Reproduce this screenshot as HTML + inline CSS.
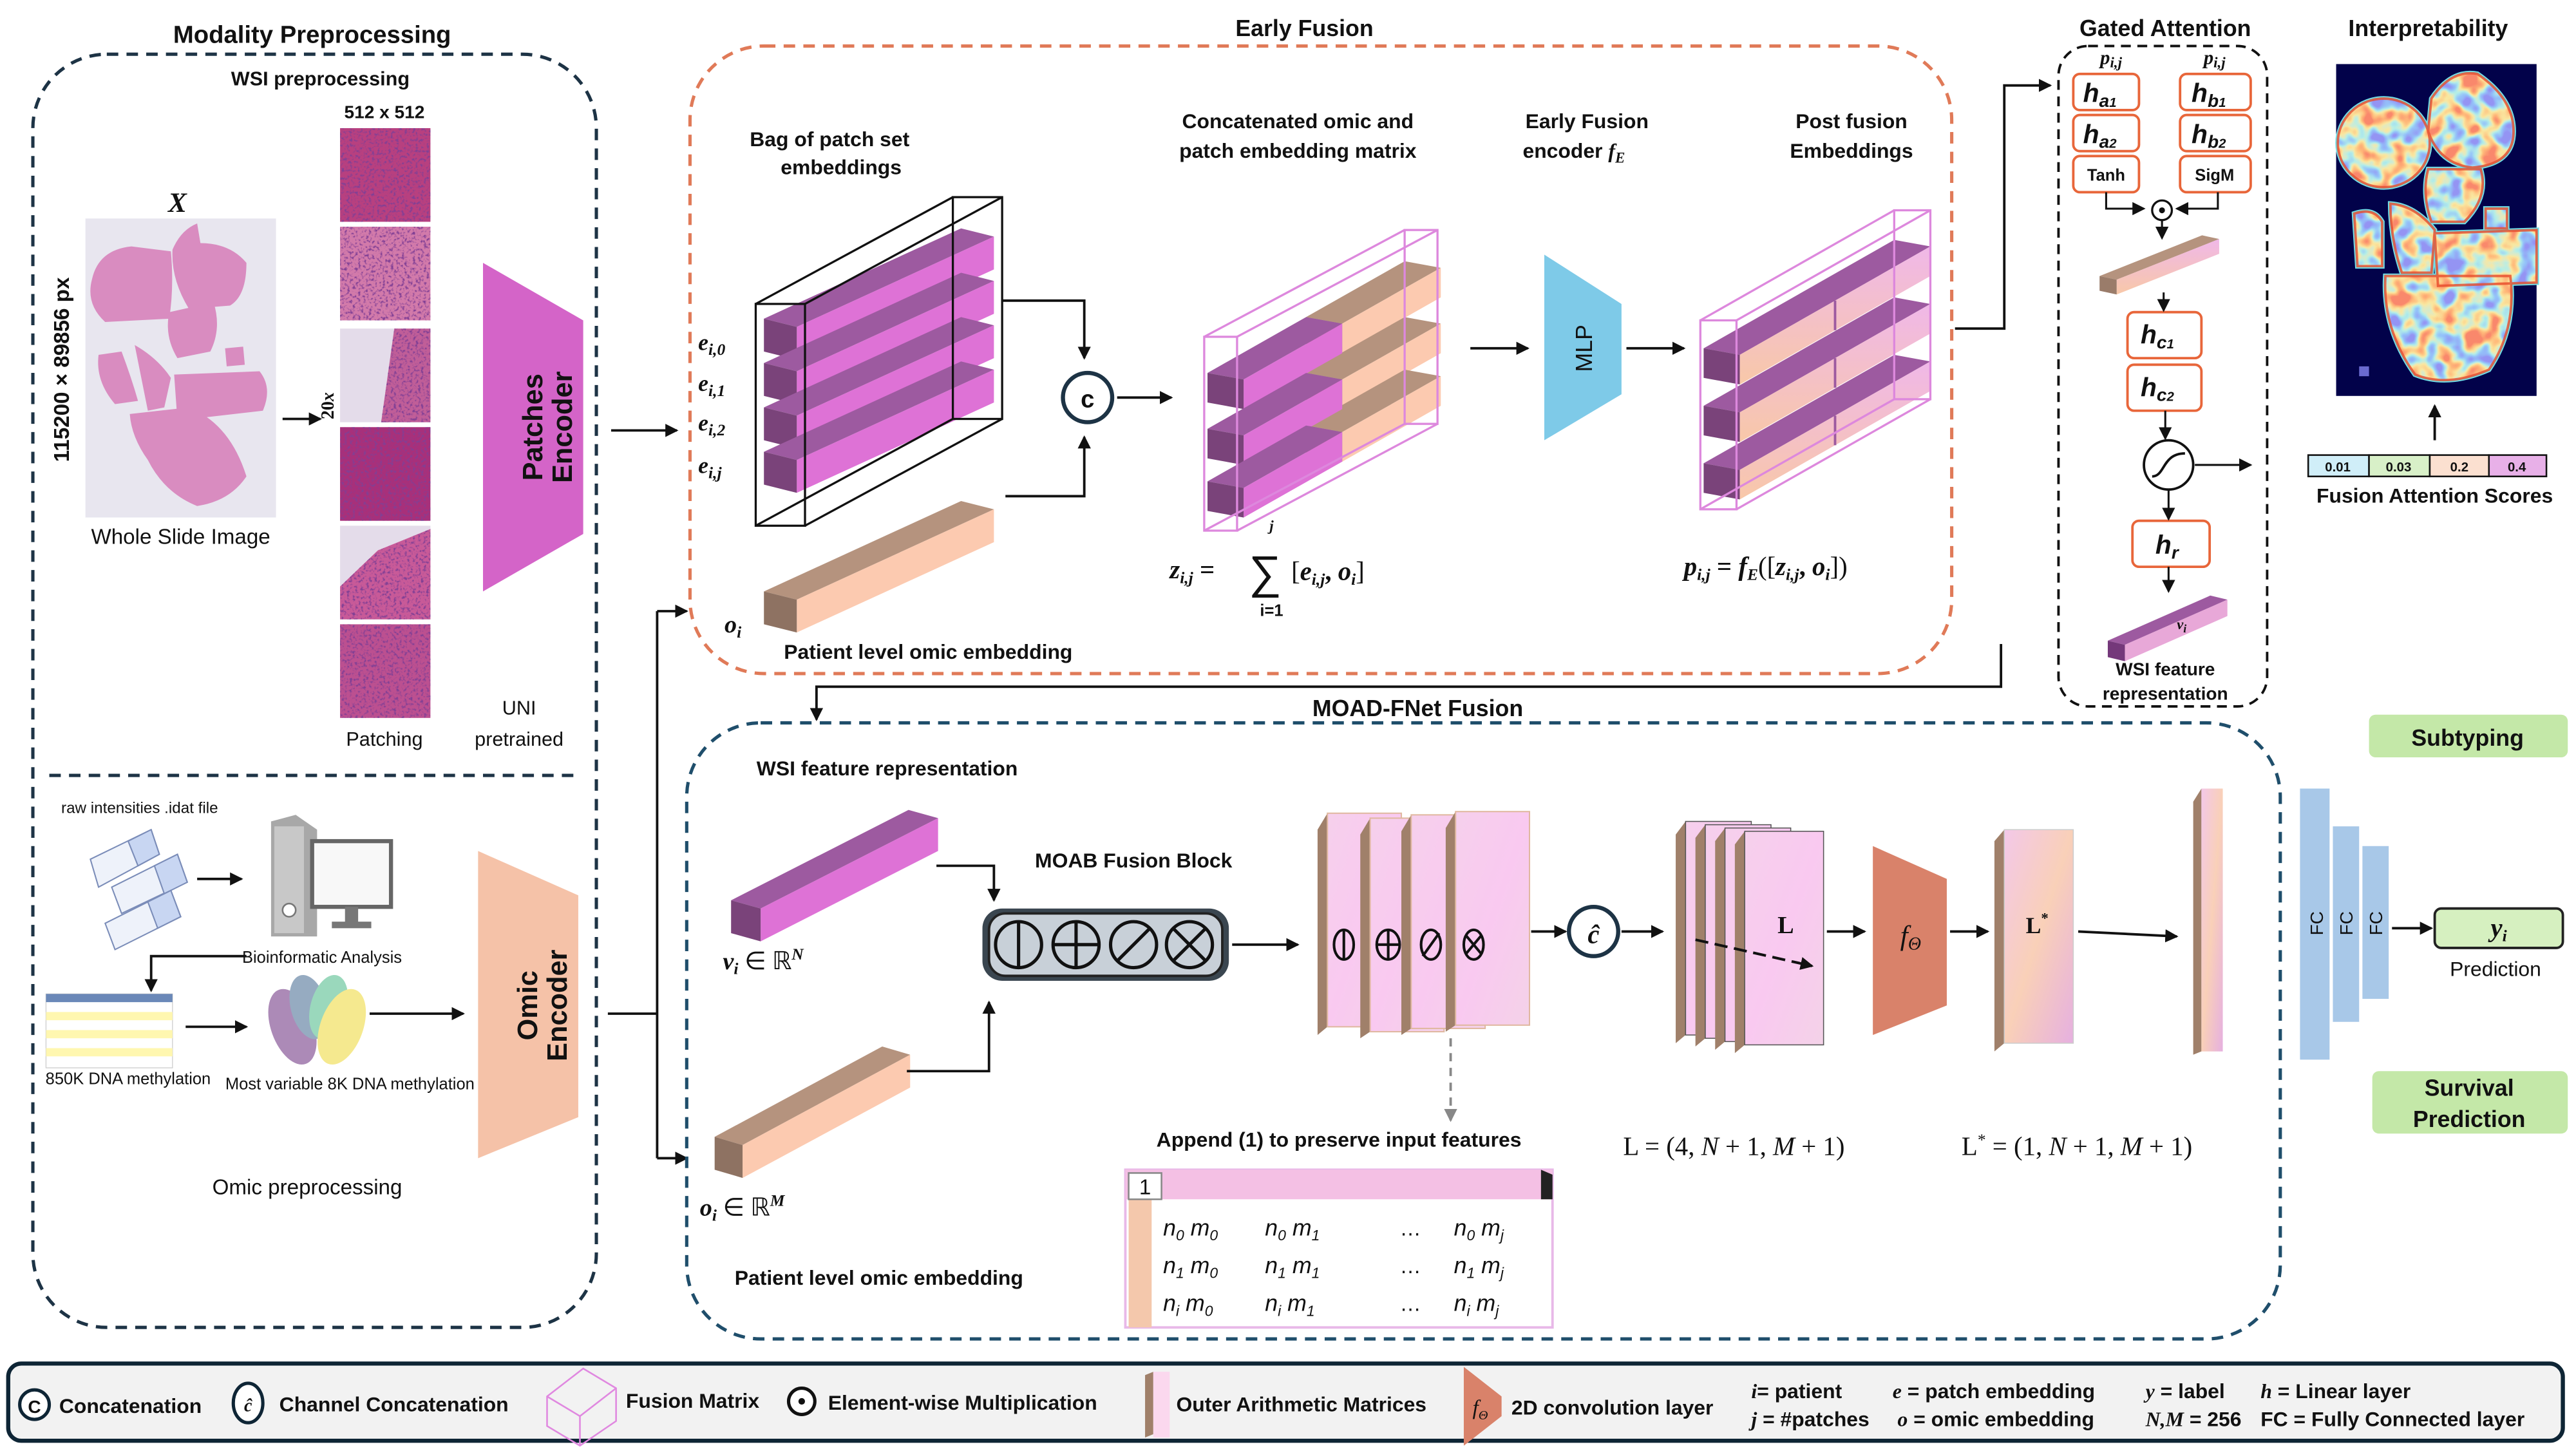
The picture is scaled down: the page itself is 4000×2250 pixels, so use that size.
<!DOCTYPE html>
<html><head><meta charset="utf-8"><style>
html,body{margin:0;padding:0;background:#fff;}
svg{display:block;}
text{font-family:"Liberation Sans",sans-serif;font-weight:bold;fill:#111;}
.it{font-family:"Liberation Serif",serif;font-style:italic;font-weight:bold;}
</style></head><body>
<svg width="4000" height="2250" viewBox="0 0 1568 882" xmlns="http://www.w3.org/2000/svg">
<defs>
<marker id="ah" markerWidth="8" markerHeight="8" refX="7" refY="4" orient="auto" markerUnits="userSpaceOnUse"><path d="M0,0 L8,4 L0,8 z" fill="#111"/></marker>
<marker id="ahg" markerWidth="8" markerHeight="8" refX="7" refY="4" orient="auto" markerUnits="userSpaceOnUse"><path d="M0,0 L8,4 L0,8 z" fill="#888"/></marker>
<g id="pb"><polygon points="0,0 120,-55 140,-50 20,5" fill="#9d5aa0"/><polygon points="20,5 140,-50 140,-30 20,25" fill="#de72d6"/><polygon points="0,0 20,5 20,25 0,20" fill="#7a437a"/></g>
<g id="ob"><polygon points="0,0 120,-55 140,-50 20,5" fill="#b5937e"/><polygon points="20,5 140,-50 140,-30 20,25" fill="#fccab0"/><polygon points="0,0 20,5 20,25 0,20" fill="#8e7262"/></g>
<g id="cbp"><polygon points="0,0 60,-34 82,-30 22,4" fill="#9d5aa0"/><polygon points="22,4 82,-30 82,-12 22,22" fill="#de72d6"/><polygon points="0,0 22,4 22,22 0,18" fill="#7a437a"/></g>
<g id="cbo"><polygon points="0,0 60,-34 82,-30 22,4" fill="#b5937e"/><polygon points="22,4 82,-30 82,-12 22,22" fill="#fccab0"/><polygon points="0,0 22,4 22,22 0,18" fill="#8e7262"/></g>
<linearGradient id="pf" x1="0" y1="0" x2="0" y2="1"><stop offset="0" stop-color="#f0b8e8"/><stop offset="1" stop-color="#f8c8a8"/></linearGradient>
<g id="fb"><polygon points="0,0 116,-66 138,-62 22,4" fill="#9d5aa0"/><polygon points="22,4 138,-62 138,-44 22,22" fill="url(#pf)"/><polygon points="0,0 22,4 22,22 0,18" fill="#7a437a"/><line x1="80" y1="-29" x2="80" y2="-11" stroke="#9d5aa0" stroke-width="1.5"/></g>
<linearGradient id="slab" x1="0" y1="0" x2="1" y2="1"><stop offset="0" stop-color="#f6d0ec"/><stop offset="0.5" stop-color="#f9c9f0"/><stop offset="1" stop-color="#f4d2e8"/></linearGradient>
<linearGradient id="lstar" x1="0" y1="0" x2="1" y2="1"><stop offset="0" stop-color="#f3c8e8"/><stop offset="0.5" stop-color="#f9d0b8"/><stop offset="1" stop-color="#e6b0e0"/></linearGradient>
<filter id="tex" x="0" y="0" width="100%" height="100%">
<feTurbulence type="fractalNoise" baseFrequency="0.6" numOctaves="2" seed="4"/>
<feColorMatrix type="matrix" values="0 0 0 0 0.22  0 0 0 0 0.05  0 0 0 0 0.3  4 0 0 0 -2"/>
<feComposite in2="SourceGraphic" operator="in"/>
</filter>
<filter id="jet" x="0" y="0" width="100%" height="100%">
<feTurbulence type="fractalNoise" baseFrequency="0.09" numOctaves="2" seed="7"/>
<feColorMatrix type="matrix" values="2.2 0 0 0 -0.6  2.2 0 0 0 -0.6  2.2 0 0 0 -0.6  0 0 0 0 1"/>
<feComponentTransfer>
<feFuncR type="table" tableValues="0.3 0.3 0.45 0.95 1 0.95"/>
<feFuncG type="table" tableValues="0.3 0.55 0.85 0.8 0.5 0.25"/>
<feFuncB type="table" tableValues="0.9 0.95 0.8 0.35 0.2 0.15"/>
</feComponentTransfer>
<feComposite in2="SourceGraphic" operator="in"/>
</filter>
<g id="tissue">
<ellipse cx="1451" cy="87" rx="28" ry="27"/>
<path d="M1480,60 Q1492,42 1508,45 Q1530,60 1530,80 Q1530,100 1505,102 Q1485,100 1478,80z"/>
<path d="M1478,103 L1510,103 Q1515,120 1500,135 L1480,135 Q1474,118 1478,103z"/>
<path d="M1433,130 Q1445,126 1450,135 L1450,162 L1435,162 z"/>
<path d="M1455,124 Q1470,125 1482,140 L1480,166 L1462,166 Q1455,145 1455,124z"/>
<path d="M1482,142 L1544,140 L1544,172 L1484,174 z"/>
<path d="M1452,168 L1528,168 Q1532,200 1515,225 Q1490,236 1470,228 Q1450,200 1452,168z"/>
<rect x="1513" y="127" width="13" height="12"/>
</g>
</defs>
<rect width="1568" height="882" fill="#fff"/>

<!-- ============ Modality preprocessing ============ -->
<text x="190" y="26" font-size="15" text-anchor="middle">Modality Preprocessing</text>
<rect x="20" y="33" width="343" height="775" rx="45" fill="none" stroke="#1d3345" stroke-width="2" stroke-dasharray="7,5"/>
<line x1="30" y1="472" x2="352" y2="472" stroke="#1d3345" stroke-width="2" stroke-dasharray="7,5"/>
<text x="195" y="52" font-size="12" text-anchor="middle">WSI preprocessing</text>
<text x="108" y="129" font-size="17" class="it" text-anchor="middle">X</text>
<rect x="52" y="133" width="116" height="182" fill="#e8e6ef"/>
<g fill="#d98cc0">
<path d="M56,170 Q60,152 80,150 L104,153 Q106,175 103,194 L64,196 Q52,185 56,170z"/>
<path d="M105,152 Q110,140 120,136 L122,148 Q140,148 150,160 Q150,180 140,186 L115,188 Q104,170 105,152z"/>
<path d="M103,190 L130,184 Q135,200 128,214 L108,218 Q100,205 103,190z"/>
<path d="M60,216 L74,214 Q80,230 84,244 L70,246 Q58,232 60,216z"/>
<path d="M82,210 Q96,218 104,230 L100,248 L90,250 Q86,230 82,210z"/>
<path d="M106,228 L158,226 Q166,236 160,250 L108,256 z"/>
<path d="M79,252 L115,248 Q140,258 150,290 Q140,305 120,308 Q100,300 90,280 Q80,266 79,252z"/>
<path d="M137,212 L148,211 L149,222 L138,223 z"/>
</g>
<text x="110" y="331" font-size="13" text-anchor="middle" style="font-weight:normal">Whole Slide Image</text>
<text transform="translate(42,225) rotate(-90)" font-size="13" text-anchor="middle">115200 × 89856 px</text>
<text x="234" y="72" font-size="11" text-anchor="middle">512 x 512</text>
<rect x="207" y="78" width="55" height="57" fill="#b8407f"/>
<rect x="207" y="138" width="55" height="57" fill="#d27aaa"/>
<rect x="207" y="200" width="55" height="57" fill="#e4dcea"/>
<polygon points="240,200 262,200 262,257 232,257" fill="#c05e98"/>
<rect x="207" y="260" width="55" height="57" fill="#a8307a"/>
<rect x="207" y="320" width="55" height="57" fill="#e4dcea"/>
<polygon points="207,357 230,335 262,322 262,377 207,377" fill="#c85a98"/>
<rect x="207" y="380" width="55" height="57" fill="#bc5090"/>
<g filter="url(#tex)">
<rect x="207" y="78" width="55" height="57"/><rect x="207" y="138" width="55" height="57"/>
<polygon points="240,200 262,200 262,257 232,257"/>
<rect x="207" y="260" width="55" height="57"/>
<polygon points="207,357 230,335 262,322 262,377 207,377"/>
<rect x="207" y="380" width="55" height="57"/>
</g>
<text x="234" y="454" font-size="12" text-anchor="middle" style="font-weight:normal">Patching</text>
<line x1="172" y1="255" x2="195" y2="255" stroke="#111" stroke-width="1.5" marker-end="url(#ah)"/>
<text transform="translate(203,247) rotate(-90)" font-size="11" text-anchor="middle" style="font-family:'Liberation Serif',serif">20<tspan font-style="italic">x</tspan></text>
<polygon points="294,160 355,195 355,325 294,360" fill="#d464c8"/>
<text transform="translate(330,260) rotate(-90)" font-size="17" text-anchor="middle">Patches</text>
<text transform="translate(348,260) rotate(-90)" font-size="17" text-anchor="middle">Encoder</text>
<text x="316" y="435" font-size="12" text-anchor="middle" style="font-weight:normal">UNI</text>
<text x="316" y="454" font-size="12" text-anchor="middle" style="font-weight:normal">pretrained</text>
<line x1="372" y1="262" x2="412" y2="262" stroke="#111" stroke-width="1.5" marker-end="url(#ah)"/>

<!-- omic preprocessing -->
<text x="85" y="495" font-size="9.5" text-anchor="middle" style="font-weight:normal">raw intensities .idat file</text>
<g stroke="#7a8cb8" stroke-width="0.8">
<polygon points="55,523 92,505 97,520 60,540" fill="#eef2fa"/><polygon points="78,512 92,505 97,520 84,527" fill="#c8d6f2"/>
<polygon points="68,540 108,520 114,537 74,556" fill="#eef2fa"/><polygon points="94,527 108,520 114,537 100,544" fill="#c8d6f2"/>
<polygon points="64,562 104,542 110,558 70,578" fill="#eef2fa"/><polygon points="90,549 104,542 110,558 96,565" fill="#c8d6f2"/>
</g>
<line x1="120" y1="535" x2="147" y2="535" stroke="#111" stroke-width="1.5" marker-end="url(#ah)"/>
<polygon points="165,500 180,496 193,505 193,570 165,570" fill="#a8a8a8"/>
<rect x="167" y="503" width="18" height="65" fill="#c8c8c8"/>
<circle cx="176" cy="554" r="4" fill="#fff" stroke="#777"/>
<rect x="190" y="512" width="48" height="40" fill="#f8f8f8" stroke="#666" stroke-width="2.5"/>
<rect x="210" y="552" width="8" height="10" fill="#777"/><rect x="202" y="561" width="24" height="4" fill="#777"/>
<text x="196" y="586" font-size="10" text-anchor="middle" style="font-weight:normal">Bioinformatic Analysis</text>
<polyline points="150,582 92,582 92,603" fill="none" stroke="#111" stroke-width="1.5" marker-end="url(#ah)"/>
<rect x="28" y="605" width="77" height="45" fill="#fff" stroke="#ccc" stroke-width="0.5"/>
<rect x="28" y="605" width="77" height="5" fill="#6a88b8"/>
<g fill="#fff7b0"><rect x="28" y="616" width="77" height="5"/><rect x="28" y="627" width="77" height="5"/><rect x="28" y="638" width="77" height="5"/></g>
<text x="78" y="660" font-size="10" text-anchor="middle" style="font-weight:normal">850K DNA methylation</text>
<line x1="113" y1="625" x2="150" y2="625" stroke="#111" stroke-width="1.5" marker-end="url(#ah)"/>
<g opacity="0.7">
<ellipse cx="178" cy="625" rx="13" ry="24" transform="rotate(-20 178 625)" fill="#8a5a9a"/>
<ellipse cx="188" cy="613" rx="11" ry="20" transform="rotate(-15 188 613)" fill="#6a88a8"/>
<ellipse cx="200" cy="613" rx="11" ry="20" transform="rotate(15 200 613)" fill="#70c8a0"/>
<ellipse cx="208" cy="625" rx="13" ry="24" transform="rotate(20 208 625)" fill="#f2e060"/>
</g>
<text x="213" y="663" font-size="10" text-anchor="middle" style="font-weight:normal">Most variable 8K DNA methylation</text>
<line x1="225" y1="617" x2="282" y2="617" stroke="#111" stroke-width="1.5" marker-end="url(#ah)"/>
<polygon points="291,518 352,545 352,680 291,705" fill="#f5c2a8"/>
<text transform="translate(327,612) rotate(-90)" font-size="17" text-anchor="middle">Omic</text>
<text transform="translate(345,612) rotate(-90)" font-size="17" text-anchor="middle">Encoder</text>
<text x="187" y="727" font-size="13" text-anchor="middle" style="font-weight:normal">Omic preprocessing</text>
<line x1="370" y1="617" x2="400" y2="617" stroke="#111" stroke-width="1.5"/>
<line x1="400" y1="372" x2="400" y2="705" stroke="#111" stroke-width="1.5"/>
<line x1="400" y1="372" x2="418" y2="372" stroke="#111" stroke-width="1.5" marker-end="url(#ah)"/>
<line x1="400" y1="705" x2="418" y2="705" stroke="#111" stroke-width="1.5" marker-end="url(#ah)"/>

<!-- ============ Early fusion ============ -->
<text x="794" y="22" font-size="14" text-anchor="middle">Early Fusion</text>
<rect x="420" y="28" width="768" height="382" rx="45" fill="none" stroke="#e07a58" stroke-width="2" stroke-dasharray="7,5"/>
<text x="505" y="89" font-size="12.5" text-anchor="middle">Bag of patch set</text>
<text x="512" y="106" font-size="12.5" text-anchor="middle">embeddings</text>
<use href="#pb" x="465" y="194"/>
<use href="#pb" x="465" y="221"/>
<use href="#pb" x="465" y="248"/>
<use href="#pb" x="465" y="275"/>
<g fill="none" stroke="#111" stroke-width="1.3">
<rect x="460" y="185" width="30" height="135"/>
<rect x="580" y="120" width="30" height="135"/>
<line x1="460" y1="185" x2="580" y2="120"/><line x1="490" y1="185" x2="610" y2="120"/>
<line x1="460" y1="320" x2="580" y2="255"/><line x1="490" y1="320" x2="610" y2="255"/>
</g>
<g font-size="14" class="it">
<text x="425" y="213" class="it">e<tspan font-size="10" dy="3">i,0</tspan></text>
<text x="425" y="238" class="it">e<tspan font-size="10" dy="3">i,1</tspan></text>
<text x="425" y="262" class="it">e<tspan font-size="10" dy="3">i,2</tspan></text>
<text x="425" y="288" class="it">e<tspan font-size="10" dy="3">i,j</tspan></text>
</g>
<use href="#ob" transform="translate(465,360)"/>
<text x="441" y="385" font-size="15" class="it">o<tspan font-size="10" dy="3">i</tspan></text>
<text x="565" y="401" font-size="12.5" text-anchor="middle">Patient level omic embedding</text>
<polyline points="610,183 660,183 660,218" fill="none" stroke="#111" stroke-width="1.5" marker-end="url(#ah)"/>
<polyline points="612,302 660,302 660,266" fill="none" stroke="#111" stroke-width="1.5" marker-end="url(#ah)"/>
<circle cx="662" cy="242" r="15" fill="#fff" stroke="#1d3345" stroke-width="2.5"/>
<text x="662" y="248" font-size="15" text-anchor="middle">c</text>
<line x1="680" y1="242" x2="713" y2="242" stroke="#111" stroke-width="1.5" marker-end="url(#ah)"/>
<text x="790" y="78" font-size="12.5" text-anchor="middle">Concatenated omic and</text>
<text x="790" y="96" font-size="12.5" text-anchor="middle">patch embedding matrix</text>
<use href="#cbo" x="795" y="193"/>
<use href="#cbo" x="795" y="227"/>
<use href="#cbo" x="795" y="259"/>
<use href="#cbp" x="735" y="227"/>
<use href="#cbp" x="735" y="261"/>
<use href="#cbp" x="735" y="293"/>
<g fill="none" stroke="#dd88dd" stroke-width="1.3">
<rect x="733" y="205" width="20" height="118"/>
<rect x="855" y="140" width="20" height="118"/>
<line x1="733" y1="205" x2="855" y2="140"/><line x1="753" y1="205" x2="875" y2="140"/>
<line x1="733" y1="323" x2="855" y2="258"/><line x1="753" y1="323" x2="875" y2="258"/>
</g>
<text x="712" y="352" font-size="16" class="it">z<tspan font-size="10" dy="3">i,j</tspan><tspan dy="-3" style="font-style:normal"> = </tspan></text>
<text x="770" y="358" font-size="28" style="font-weight:normal" text-anchor="middle">∑</text>
<text x="774" y="323" font-size="9" class="it" text-anchor="middle">j</text>
<text x="774" y="375" font-size="10" text-anchor="middle">i=1</text>
<text x="786" y="353" font-size="16" class="it"><tspan style="font-style:normal;font-weight:normal">[</tspan>e<tspan font-size="10" dy="3">i,j</tspan><tspan dy="-3" style="font-style:normal">, </tspan>o<tspan font-size="10" dy="3">i</tspan><tspan dy="-3" style="font-style:normal;font-weight:normal">]</tspan></text>
<line x1="895" y1="212" x2="930" y2="212" stroke="#111" stroke-width="1.5" marker-end="url(#ah)"/>
<text x="966" y="78" font-size="12.5" text-anchor="middle">Early Fusion</text>
<text x="958" y="96" font-size="12.5" text-anchor="middle">encoder <tspan class="it">f<tspan font-size="9" dy="3">E</tspan></tspan></text>
<polygon points="940,155 987,185 987,240 940,268" fill="#7ecae8"/>
<text transform="translate(969,212) rotate(-90)" font-size="14" text-anchor="middle" style="font-weight:normal">MLP</text>
<line x1="990" y1="212" x2="1025" y2="212" stroke="#111" stroke-width="1.5" marker-end="url(#ah)"/>
<text x="1127" y="78" font-size="12.5" text-anchor="middle">Post fusion</text>
<text x="1127" y="96" font-size="12.5" text-anchor="middle">Embeddings</text>
<use href="#fb" x="1037" y="212"/>
<use href="#fb" x="1037" y="247"/>
<use href="#fb" x="1037" y="282"/>
<g fill="none" stroke="#dd88dd" stroke-width="1.3">
<rect x="1035" y="195" width="22" height="115"/>
<rect x="1153" y="128" width="22" height="115"/>
<line x1="1035" y1="195" x2="1153" y2="128"/><line x1="1057" y1="195" x2="1175" y2="128"/>
<line x1="1035" y1="310" x2="1153" y2="243"/><line x1="1057" y1="310" x2="1175" y2="243"/>
</g>
<text x="1025" y="350" font-size="16" class="it">p<tspan font-size="10" dy="3">i,j</tspan><tspan dy="-3" style="font-style:normal"> = </tspan>f<tspan font-size="10" dy="3">E</tspan><tspan dy="-3" style="font-style:normal;font-weight:normal">([</tspan>z<tspan font-size="10" dy="3">i,j</tspan><tspan dy="-3" style="font-style:normal">, </tspan>o<tspan font-size="10" dy="3">i</tspan><tspan dy="-3" style="font-style:normal;font-weight:normal">])</tspan></text>
<polyline points="1190,200 1220,200 1220,52 1248,52" fill="none" stroke="#111" stroke-width="1.5" marker-end="url(#ah)"/>

<!-- ============ Gated attention ============ -->
<text x="1318" y="22" font-size="14" text-anchor="middle">Gated Attention</text>
<rect x="1253" y="28" width="127" height="402" rx="18" fill="none" stroke="#111" stroke-width="1.5" stroke-dasharray="6,4"/>
<text x="1285" y="39" font-size="12" class="it" text-anchor="middle">p<tspan font-size="9" dy="2">i,j</tspan></text>
<text x="1348" y="39" font-size="12" class="it" text-anchor="middle">p<tspan font-size="9" dy="2">i,j</tspan></text>
<g fill="#fff" stroke="#e8663a" stroke-width="1.5">
<rect x="1262" y="45" width="40" height="22" rx="4"/><rect x="1262" y="70" width="40" height="22" rx="4"/><rect x="1262" y="95" width="40" height="22" rx="4"/>
<rect x="1327" y="45" width="43" height="22" rx="4"/><rect x="1327" y="70" width="43" height="22" rx="4"/><rect x="1327" y="95" width="43" height="22" rx="4"/>
<rect x="1295" y="190" width="45" height="28" rx="4"/><rect x="1295" y="222" width="45" height="28" rx="4"/>
<rect x="1298" y="317" width="47" height="28" rx="4"/>
</g>
<g font-size="16" class="it">
<text x="1268" y="62">h<tspan font-size="11" dy="3">a<tspan font-size="8">1</tspan></tspan></text>
<text x="1268" y="87">h<tspan font-size="11" dy="3">a<tspan font-size="8">2</tspan></tspan></text>
<text x="1334" y="62">h<tspan font-size="11" dy="3">b<tspan font-size="8">1</tspan></tspan></text>
<text x="1334" y="87">h<tspan font-size="11" dy="3">b<tspan font-size="8">2</tspan></tspan></text>
<text x="1303" y="209">h<tspan font-size="11" dy="3">c<tspan font-size="8">1</tspan></tspan></text>
<text x="1303" y="241">h<tspan font-size="11" dy="3">c<tspan font-size="8">2</tspan></tspan></text>
<text x="1312" y="337">h<tspan font-size="11" dy="3">r</tspan></text>
</g>
<text x="1282" y="110" font-size="10" text-anchor="middle">Tanh</text>
<text x="1348" y="110" font-size="10" text-anchor="middle">SigM</text>
<polyline points="1282,117 1282,127 1305,127" fill="none" stroke="#111" stroke-width="1.2" marker-end="url(#ah)"/>
<polyline points="1350,117 1350,127 1325,127" fill="none" stroke="#111" stroke-width="1.2" marker-end="url(#ah)"/>
<circle cx="1316" cy="128" r="6" fill="#fff" stroke="#111" stroke-width="1.3"/><circle cx="1316" cy="128" r="1.8" fill="#111"/>
<line x1="1316" y1="134" x2="1316" y2="145" stroke="#111" stroke-width="1.2" marker-end="url(#ah)"/>
<g transform="translate(1278,168) scale(0.52,0.45)"><polygon points="0,0 120,-55 140,-50 20,5" fill="#b5937e"/><polygon points="20,5 140,-50 140,-30 20,25" fill="url(#pf)"/><polygon points="0,0 20,5 20,25 0,20" fill="#9a7c6a"/></g>
<line x1="1317" y1="178" x2="1317" y2="189" stroke="#111" stroke-width="1.2" marker-end="url(#ah)"/>
<line x1="1318" y1="250" x2="1318" y2="267" stroke="#111" stroke-width="1.2" marker-end="url(#ah)"/>
<circle cx="1320" cy="283" r="15" fill="#fff" stroke="#111" stroke-width="1.5"/>
<path d="M1310,290 C1318,290 1316,276 1330,276" fill="none" stroke="#111" stroke-width="1.5"/>
<line x1="1336" y1="283" x2="1370" y2="283" stroke="#111" stroke-width="1.2" marker-end="url(#ah)"/>
<line x1="1320" y1="298" x2="1320" y2="316" stroke="#111" stroke-width="1.2" marker-end="url(#ah)"/>
<line x1="1320" y1="345" x2="1320" y2="360" stroke="#111" stroke-width="1.2" marker-end="url(#ah)"/>
<g transform="translate(1283,390) scale(0.52,0.5)"><polygon points="0,0 120,-55 140,-50 20,5" fill="#9d5aa0"/><polygon points="20,5 140,-50 140,-30 20,25" fill="#e8a8d8"/><polygon points="0,0 20,5 20,25 0,20" fill="#74387a"/></g>
<text x="1325" y="383" font-size="9" class="it">v<tspan font-size="7" dy="2">i</tspan></text>
<text x="1318" y="411" font-size="11" text-anchor="middle">WSI feature</text>
<text x="1318" y="426" font-size="11" text-anchor="middle">representation</text>
<polyline points="1218,392 1218,418 497,418 497,438" fill="none" stroke="#111" stroke-width="1.5" marker-end="url(#ah)"/>

<!-- ============ Interpretability ============ -->
<text x="1478" y="22" font-size="14" text-anchor="middle">Interpretability</text>
<rect x="1422" y="39" width="122" height="202" fill="#02024a"/>
<use href="#tissue" fill="#50d8e8" stroke="#70e0e8" stroke-width="3"/>
<g filter="url(#jet)"><use href="#tissue" fill="#000"/></g>
<use href="#tissue" fill="none" stroke="#e84a2a" stroke-width="1.5" opacity="0.8"/>
<rect x="1436" y="223" width="6" height="6" fill="#6a6ad0"/>
<line x1="1482" y1="268" x2="1482" y2="247" stroke="#111" stroke-width="1.5" marker-end="url(#ah)"/>
<g stroke="#111" stroke-width="1">
<rect x="1405" y="277" width="37" height="13" fill="#d0eef8"/>
<rect x="1442" y="277" width="37" height="13" fill="#d8f0c8"/>
<rect x="1479" y="277" width="36" height="13" fill="#fbe0d0"/>
<rect x="1515" y="277" width="35" height="13" fill="#e8b0e8"/>
</g>
<g font-size="8" text-anchor="middle"><text x="1423" y="287">0.01</text><text x="1460" y="287">0.03</text><text x="1497" y="287">0.2</text><text x="1532" y="287">0.4</text></g>
<text x="1482" y="306" font-size="12.5" text-anchor="middle">Fusion Attention Scores</text>

<!-- ============ MOAD-FNet ============ -->
<text x="863" y="436" font-size="14" text-anchor="middle">MOAD-FNet Fusion</text>
<rect x="418" y="440" width="970" height="375" rx="45" fill="none" stroke="#1f4e6b" stroke-width="2" stroke-dasharray="7,5"/>
<text x="540" y="472" font-size="12.5" text-anchor="middle">WSI feature representation</text>
<g transform="translate(445,548) scale(0.9,1)"><use href="#pb"/></g>
<text x="440" y="590" font-size="15" class="it">v<tspan font-size="10" dy="3">i</tspan><tspan dy="-3" style="font-style:normal;font-weight:normal"> ∈ ℝ</tspan><tspan font-size="10" dy="-6">N</tspan></text>
<g transform="translate(435,692) scale(0.85,1)"><use href="#ob"/></g>
<text x="426" y="740" font-size="15" class="it">o<tspan font-size="10" dy="3">i</tspan><tspan dy="-3" style="font-style:normal;font-weight:normal"> ∈ ℝ</tspan><tspan font-size="10" dy="-6">M</tspan></text>
<text x="535" y="782" font-size="12.5" text-anchor="middle">Patient level omic embedding</text>
<polyline points="570,527 605,527 605,548" fill="none" stroke="#111" stroke-width="1.5" marker-end="url(#ah)"/>
<polyline points="552,652 602,652 602,610" fill="none" stroke="#111" stroke-width="1.5" marker-end="url(#ah)"/>
<text x="690" y="528" font-size="12.5" text-anchor="middle">MOAB Fusion Block</text>
<rect x="598" y="553" width="150" height="44" rx="12" fill="#3a4650"/>
<rect x="602" y="556" width="142" height="38" rx="10" fill="#c8d0d8" stroke="#222" stroke-width="1.5"/>
<g fill="none" stroke="#111" stroke-width="2">
<circle cx="620" cy="575" r="14"/><line x1="620" y1="561" x2="620" y2="589"/>
<circle cx="655" cy="575" r="14"/><line x1="641" y1="575" x2="669" y2="575"/><line x1="655" y1="561" x2="655" y2="589"/>
<circle cx="690" cy="575" r="14"/><line x1="680" y1="585" x2="700" y2="565"/>
<circle cx="724" cy="575" r="14"/><line x1="714" y1="565" x2="734" y2="585"/><line x1="734" y1="565" x2="714" y2="585"/>
</g>
<line x1="750" y1="575" x2="790" y2="575" stroke="#111" stroke-width="1.5" marker-end="url(#ah)"/>
<g>
<polygon points="802,505 808,495 808,625 802,630" fill="#a0806a"/><rect x="808" y="495" width="45" height="130" fill="url(#slab)" stroke="#e0b8a0" stroke-width="0.8"/>
<polygon points="828,508 834,498 834,628 828,632" fill="#a0806a"/><rect x="834" y="498" width="45" height="130" fill="url(#slab)" stroke="#e0b8a0" stroke-width="0.8"/>
<polygon points="853,506 859,496 859,626 853,630" fill="#a0806a"/><rect x="859" y="496" width="45" height="130" fill="url(#slab)" stroke="#e0b8a0" stroke-width="0.8"/>
<polygon points="880,504 886,494 886,624 880,628" fill="#a0806a"/><rect x="886" y="494" width="45" height="130" fill="url(#slab)" stroke="#e0b8a0" stroke-width="0.8"/>
</g>
<g fill="none" stroke="#111" stroke-width="1.6">
<ellipse cx="818" cy="575" rx="6" ry="9"/><line x1="818" y1="566" x2="818" y2="584"/>
<ellipse cx="845" cy="575" rx="7" ry="9"/><line x1="838" y1="575" x2="852" y2="575"/><line x1="845" y1="566" x2="845" y2="584"/>
<ellipse cx="871" cy="575" rx="6" ry="9"/><line x1="866" y1="582" x2="876" y2="568"/>
<ellipse cx="897" cy="575" rx="6" ry="9"/><line x1="892" y1="569" x2="902" y2="581"/><line x1="902" y1="569" x2="892" y2="581"/>
</g>
<line x1="883" y1="632" x2="883" y2="682" stroke="#888" stroke-width="1.5" stroke-dasharray="5,4" marker-end="url(#ahg)"/>
<text x="815" y="698" font-size="12.5" text-anchor="middle">Append (1) to preserve input features</text>
<rect x="685" y="712" width="260" height="96" fill="#fff" stroke="#e8b8e8" stroke-width="1.5"/>
<rect x="685" y="712" width="260" height="18" fill="#f4c0e4"/>
<rect x="687" y="730" width="14" height="78" fill="#f4c8ac"/>
<polygon points="938,712 945,715 945,730 938,730" fill="#222"/>
<rect x="687" y="714" width="20" height="16" fill="#fff" stroke="#888"/>
<text x="697" y="727" font-size="13" text-anchor="middle" style="font-weight:normal">1</text>
<g font-size="14" style="font-weight:normal;font-family:'Liberation Serif',serif;font-style:italic">
<text x="708" y="752" style="font-weight:normal">n<tspan font-size="9" dy="3">0</tspan><tspan dy="-3"> m</tspan><tspan font-size="9" dy="3">0</tspan></text>
<text x="770" y="752" style="font-weight:normal">n<tspan font-size="9" dy="3">0</tspan><tspan dy="-3"> m</tspan><tspan font-size="9" dy="3">1</tspan></text>
<text x="885" y="752" style="font-weight:normal">n<tspan font-size="9" dy="3">0</tspan><tspan dy="-3"> m</tspan><tspan font-size="9" dy="3">j</tspan></text>
<text x="708" y="775" style="font-weight:normal">n<tspan font-size="9" dy="3">1</tspan><tspan dy="-3"> m</tspan><tspan font-size="9" dy="3">0</tspan></text>
<text x="770" y="775" style="font-weight:normal">n<tspan font-size="9" dy="3">1</tspan><tspan dy="-3"> m</tspan><tspan font-size="9" dy="3">1</tspan></text>
<text x="885" y="775" style="font-weight:normal">n<tspan font-size="9" dy="3">1</tspan><tspan dy="-3"> m</tspan><tspan font-size="9" dy="3">j</tspan></text>
<text x="708" y="798" style="font-weight:normal">n<tspan font-size="9" dy="3">i</tspan><tspan dy="-3"> m</tspan><tspan font-size="9" dy="3">0</tspan></text>
<text x="770" y="798" style="font-weight:normal">n<tspan font-size="9" dy="3">i</tspan><tspan dy="-3"> m</tspan><tspan font-size="9" dy="3">1</tspan></text>
<text x="885" y="798" style="font-weight:normal">n<tspan font-size="9" dy="3">i</tspan><tspan dy="-3"> m</tspan><tspan font-size="9" dy="3">j</tspan></text>
</g>
<g font-size="13"><text x="852" y="752" style="font-weight:normal">…</text><text x="852" y="775" style="font-weight:normal">…</text><text x="852" y="798" style="font-weight:normal">…</text></g>
<line x1="932" y1="567" x2="953" y2="567" stroke="#111" stroke-width="1.5" marker-end="url(#ah)"/>
<circle cx="970" cy="567" r="15" fill="#fff" stroke="#1d3345" stroke-width="2.5"/>
<text x="970" y="574" font-size="16" class="it" text-anchor="middle">ĉ</text>
<line x1="987" y1="567" x2="1012" y2="567" stroke="#111" stroke-width="1.5" marker-end="url(#ah)"/>
<g>
<polygon points="1020,508 1026,500 1026,630 1020,635" fill="#a0806a"/><rect x="1026" y="500" width="40" height="130" fill="url(#slab)" stroke="#555" stroke-width="0.6"/>
<polygon points="1032,510 1038,502 1038,632 1032,637" fill="#a0806a"/><rect x="1038" y="502" width="40" height="130" fill="url(#slab)" stroke="#555" stroke-width="0.6"/>
<polygon points="1044,512 1050,504 1050,634 1044,639" fill="#a0806a"/><rect x="1050" y="504" width="40" height="130" fill="url(#slab)" stroke="#555" stroke-width="0.6"/>
<polygon points="1056,514 1062,506 1062,636 1056,641" fill="#a0806a"/><rect x="1062" y="506" width="48" height="130" fill="url(#slab)" stroke="#555" stroke-width="0.6"/>
</g>
<text x="1087" y="568" font-size="15" text-anchor="middle" style="font-family:'Liberation Serif',serif">L</text>
<line x1="1032" y1="572" x2="1103" y2="588" stroke="#111" stroke-width="1.6" stroke-dasharray="8,4" marker-end="url(#ah)"/>
<text x="988" y="703" font-size="16" style="font-family:'Liberation Serif',serif;font-weight:normal">L <tspan>= (4, </tspan><tspan font-style="italic">N</tspan> + 1, <tspan font-style="italic">M</tspan> + 1)</text>
<line x1="1112" y1="567" x2="1135" y2="567" stroke="#111" stroke-width="1.5" marker-end="url(#ah)"/>
<polygon points="1140,515 1185,535 1185,612 1140,630" fill="#d9826a"/>
<text x="1163" y="575" font-size="17" class="it" text-anchor="middle" style="font-weight:normal">f<tspan font-size="11" dy="3">Θ</tspan></text>
<line x1="1187" y1="567" x2="1210" y2="567" stroke="#111" stroke-width="1.5" marker-end="url(#ah)"/>
<polygon points="1214,512 1220,505 1220,635 1214,640" fill="#a0806a"/><rect x="1220" y="505" width="42" height="130" fill="url(#lstar)" stroke="#ccc" stroke-width="0.6"/>
<text x="1240" y="568" font-size="14" text-anchor="middle" style="font-family:'Liberation Serif',serif">L<tspan font-size="9" dy="-6">*</tspan></text>
<text x="1194" y="703" font-size="16" style="font-family:'Liberation Serif',serif;font-weight:normal">L<tspan font-size="10" dy="-6">*</tspan><tspan dy="6"> = (1, </tspan><tspan font-style="italic">N</tspan> + 1, <tspan font-style="italic">M</tspan> + 1)</text>
<line x1="1265" y1="567" x2="1325" y2="570" stroke="#111" stroke-width="1.5" marker-end="url(#ah)"/>
<polygon points="1335,488 1340,480 1340,640 1335,642" fill="#a0806a"/><rect x="1340" y="480" width="13" height="160" fill="url(#lstar)"/>
<g fill="#a8c8e8">
<rect x="1400" y="480" width="18" height="165"/><rect x="1420" y="503" width="16" height="119"/><rect x="1438" y="515" width="16" height="93"/>
</g>
<g font-size="11"><text transform="translate(1414,562) rotate(-90)" text-anchor="middle" style="font-weight:normal">FC</text><text transform="translate(1432,562) rotate(-90)" text-anchor="middle" style="font-weight:normal">FC</text><text transform="translate(1450,562) rotate(-90)" text-anchor="middle" style="font-weight:normal">FC</text></g>
<line x1="1456" y1="565" x2="1480" y2="565" stroke="#111" stroke-width="1.5" marker-end="url(#ah)"/>
<rect x="1482" y="553" width="78" height="24" rx="4" fill="#d6f0c0" stroke="#222" stroke-width="1.5"/>
<text x="1521" y="570" font-size="16" class="it" text-anchor="middle">y<tspan font-size="10" dy="3">i</tspan></text>
<text x="1519" y="594" font-size="12.5" text-anchor="middle" style="font-weight:normal">Prediction</text>
<rect x="1442" y="435" width="121" height="26" rx="4" fill="#c4e8a8"/>
<text x="1502" y="454" font-size="14" text-anchor="middle">Subtyping</text>
<rect x="1444" y="652" width="119" height="38" rx="4" fill="#c4e8a8"/>
<text x="1503" y="667" font-size="14" text-anchor="middle">Survival</text>
<text x="1503" y="686" font-size="14" text-anchor="middle">Prediction</text>

<!-- ============ Legend ============ -->
<rect x="5" y="830" width="1555" height="47" rx="8" fill="#f2f2f2" stroke="#0e2535" stroke-width="2.5"/>
<circle cx="21" cy="855" r="9" fill="#fff" stroke="#0e2535" stroke-width="2"/><text x="21" y="860" font-size="11" text-anchor="middle">C</text>
<text x="36" y="860" font-size="12.5">Concatenation</text>
<ellipse cx="151" cy="854" rx="9" ry="12" fill="#fff" stroke="#0e2535" stroke-width="2"/><text x="151" y="859" font-size="11" class="it" text-anchor="middle">ĉ</text>
<text x="170" y="859" font-size="12.5">Channel Concatenation</text>
<g fill="none" stroke="#e088e0" stroke-width="1"><polygon points="333,850 355,833 375,845 375,865 353,880 333,868"/><line x1="333" y1="850" x2="353" y2="862"/><line x1="353" y1="862" x2="375" y2="845"/><line x1="353" y1="862" x2="353" y2="880"/></g>
<text x="381" y="857" font-size="12.5">Fusion Matrix</text>
<circle cx="488" cy="853" r="8" fill="#fff" stroke="#111" stroke-width="2"/><circle cx="488" cy="853" r="2" fill="#111"/>
<text x="504" y="858" font-size="12.5">Element-wise Multiplication</text>
<polygon points="697,837 702,835 702,873 697,875" fill="#a0806a"/><rect x="702" y="835" width="10" height="40" fill="#fbd8ee"/>
<text x="716" y="859" font-size="12.5">Outer Arithmetic Matrices</text>
<polygon points="891,832 914,850 914,862 891,880" fill="#d9826a"/>
<text x="901" y="861" font-size="13" class="it" text-anchor="middle" style="font-weight:normal">f<tspan font-size="8" dy="3">Θ</tspan></text>
<text x="920" y="861" font-size="12.5">2D convolution layer</text>
<g font-size="12.5">
<text x="1066" y="851"><tspan class="it">i</tspan>= patient</text>
<text x="1152" y="851"><tspan class="it">e</tspan> = patch embedding</text>
<text x="1306" y="851"><tspan class="it">y</tspan> = label</text>
<text x="1376" y="851"><tspan class="it">h</tspan> = Linear layer</text>
<text x="1066" y="868"><tspan class="it">j</tspan> = #patches</text>
<text x="1155" y="868"><tspan class="it">o</tspan> = omic embedding</text>
<text x="1306" y="868"><tspan class="it">N,M</tspan> = 256</text>
<text x="1376" y="868">FC = Fully Connected layer</text>
</g>
</svg>
</body></html>
